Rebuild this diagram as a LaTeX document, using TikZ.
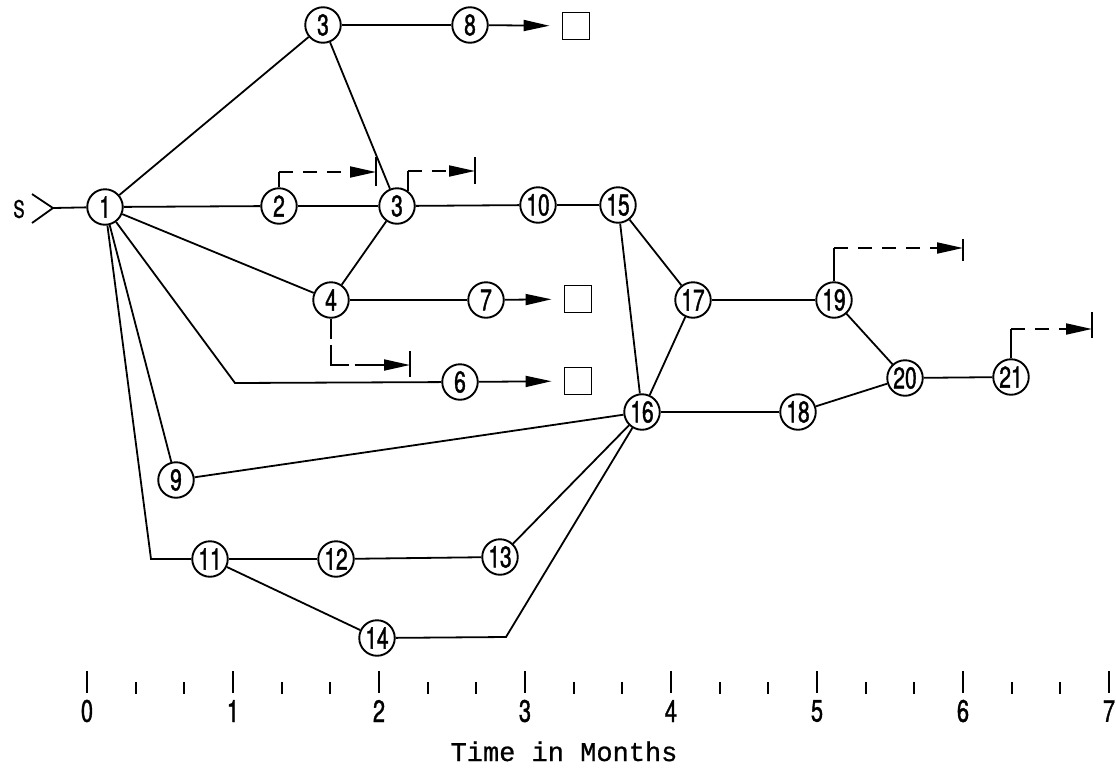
\documentclass[tikz,border=0pt]{standalone}
\usepackage{fontspec}
\usetikzlibrary{arrows.meta,calc}
\newfontfamily\lettering{TeX Gyre Heros}[FakeStretch=0.7,FakeBold=1.2]
\newfontfamily\typed{Liberation Mono}[FakeBold=0.8]

\begin{document}
\begin{tikzpicture}[x=1pt,y=-1pt,
  ev/.style={circle,draw,line width=1.9pt,minimum size=35.5pt,inner sep=0pt,
             font=\lettering\fontsize{30}{30}\selectfont},
  conn/.style={line width=1.8pt},
  box/.style={draw,line width=1.9pt,minimum size=27pt,inner sep=0pt},
  tip/.style={-{Triangle[length=26pt,width=11pt]}},
  lag/.style={line width=1.9pt,dash pattern=on 14pt off 10pt},
  stopbar/.style={line width=1.9pt},
  tick/.style={line width=2pt},
  scalelabel/.style={font=\lettering\fontsize{31}{31}\selectfont,inner sep=0pt}
]
\useasboundingbox (0,0) rectangle (1116,774);

% ---- start marker ----
\node[font=\lettering\fontsize{24}{24}\selectfont,inner sep=0pt] (s) at (19,209) {S};
\coordinate (sv) at (53,208);
\coordinate (sa) at (32,194);
\coordinate (sb) at (32,223);
\draw[conn] (sa) -- (sv) -- (sb);

% ---- events ----
\node[ev] (n1)  at (105,207) {1};
\node[ev] (n3a) at (323,25)  {3};
\node[ev] (n8)  at (470,25)  {8};
\node[ev] (n2)  at (279,206) {2};
\node[ev] (n3b) at (397,206) {3};
\node[ev] (n10) at (538,205) {10};
\node[ev] (n15) at (618,205) {15};
\node[ev] (n4)  at (331,300) {4};
\node[ev] (n7)  at (486,300) {7};
\node[ev] (n6)  at (460,382) {6};
\node[ev] (n9)  at (176,480) {9};
\node[ev] (n16) at (642,412) {16};
\node[ev] (n17) at (693,300) {17};
\node[ev] (n19) at (834,300) {19};
\node[ev] (n18) at (798,412) {18};
\node[ev] (n20) at (905,378) {20};
\node[ev] (n21) at (1011,377) {21};
\node[ev] (n11) at (210,559) {11};
\node[ev] (n12) at (336,559) {12};
\node[ev] (n13) at (500,557) {13};
\node[ev] (n14) at (377,638) {14};

% ---- terminal boxes ----
\node[box] (sq8) at (576,26)  {};
\node[box] (sq7) at (578,299) {};
\node[box] (sq6) at (578,381) {};

% ---- bends ----
\coordinate (c6)  at (235,383);
\coordinate (c11) at (151,559);
\coordinate (c14) at (506,637);

% ---- activities ----
\draw[conn] (sv) -- (n1);
\draw[conn] (n1) -- (n3a);
\draw[conn] (n1) -- (n2);
\draw[conn] (n1) -- (n4);
\draw[conn] (n1) -- (c6) -- (n6);
\draw[conn] (n1) -- (n9);
\draw[conn] (n1) -- (c11) -- (n11);
\draw[conn] (n3a) -- (n8);
\draw[conn,tip,shorten >=12pt] (n8) -- (sq8);
\draw[conn] (n3a) -- (n3b);
\draw[conn] (n2) -- (n3b);
\draw[conn] (n4) -- (n3b);
\draw[conn] (n3b) -- (n10);
\draw[conn] (n10) -- (n15);
\draw[conn] (n4) -- (n7);
\draw[conn,tip,shorten >=12pt] (n7) -- (sq7);
\draw[conn,tip,shorten >=12pt] (n6) -- (sq6);
\draw[conn] (n15) -- (n16);
\draw[conn] (n15) -- (n17);
\draw[conn] (n16) -- (n17);
\draw[conn] (n17) -- (n19);
\draw[conn] (n19) -- (n20);
\draw[conn] (n16) -- (n18);
\draw[conn] (n18) -- (n20);
\draw[conn] (n20) -- (n21);
\draw[conn] (n9) -- (n16);
\draw[conn] (n11) -- (n12);
\draw[conn] (n12) -- (n13);
\draw[conn] (n13) -- (n16);
\draw[conn] (n11) -- (n14);
\draw[conn] (n14) -- (c14) -- (n16);

% ---- float / lag markers ----
% after event 2
\coordinate (l2b) at (376,172);
\coordinate (l2a) at (n2.north |- l2b);
\draw[conn] (n2.north) -- (l2a);
\draw[lag,tip] (l2a) -- (l2b);
\draw[stopbar] ($(l2b)+(0,-15)$) -- ($(l2b)+(0,14)$);

% after event 3
\coordinate (l3b) at (475,171);
\coordinate (l3a) at (n3b.55 |- l3b);
\draw[conn] (n3b.55) -- (l3a);
\draw[lag,tip] (l3a) -- (l3b);
\draw[stopbar] ($(l3b)+(0,-14)$) -- ($(l3b)+(0,13)$);

% after event 4
\coordinate (l4b) at (410,365);
\coordinate (l4a) at (n4.south |- l4b);
\draw[line width=1.9pt,dash pattern=on 20pt off 6pt on 38pt off 6pt on 60pt,tip]
  (n4.south) -- (l4a) -- (l4b);
\draw[stopbar] ($(l4b)+(0,-14)$) -- ($(l4b)+(0,12)$);

% after event 19
\coordinate (l19b) at (963,248);
\coordinate (l19a) at (n19.north |- l19b);
\draw[conn] (n19.north) -- (l19a);
\draw[lag,tip] (l19a) -- (l19b);
\draw[stopbar] ($(l19b)+(0,-9)$) -- ($(l19b)+(0,13)$);

% after event 21
\coordinate (l21b) at (1092,329);
\coordinate (l21a) at (n21.north |- l21b);
\draw[conn] (n21.north) -- (l21a);
\draw[lag,tip] (l21a) -- (l21b);
\draw[stopbar] ($(l21b)+(0,-17)$) -- ($(l21b)+(0,9)$);

% ---- time scale ----
\foreach \k in {0,...,7}{
  \draw[tick] (87+146*\k,671) -- (87+146*\k,693);
  \node[scalelabel] (t\k) at (87+146*\k,711) {\k};
}
\foreach \k in {0,...,6}{
  \foreach \j in {1,2}{
    \draw[line width=1.8pt] (87+146*\k+48.67*\j,682) -- (87+146*\k+48.67*\j,694);
  }
}
\node[font=\typed\fontsize{27}{27}\selectfont,anchor=base,inner sep=0pt] (cap) at (564,761) {Time in Months};
\end{tikzpicture}
\end{document}
